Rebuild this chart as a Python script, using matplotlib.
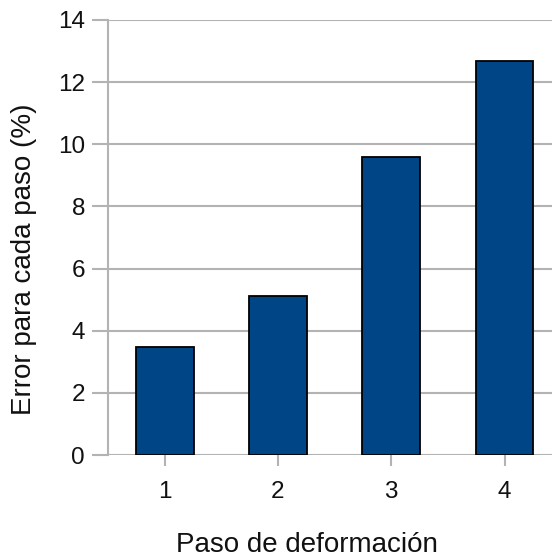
import matplotlib
matplotlib.use("Agg")
import matplotlib.pyplot as plt

# Error per deformation step
pasos = ["1", "2", "3", "4"]
errores = [3.48, 5.11, 9.59, 12.68]
yticks = [0, 2, 4, 6, 8, 10, 12, 14]

plt.rcParams["font.family"] = ["Liberation Sans", "DejaVu Sans"]

fig = plt.figure(figsize=(5.52, 5.58), dpi=100)
ax = fig.add_axes([108 / 552, 1 - 455 / 558, 1 - 108 / 552, (455 - 20) / 558])

x = list(range(1, len(pasos) + 1))
ax.bar(x, errores, width=0.51, color="#004586", edgecolor="#000000",
       linewidth=1.3, zorder=3)

ax.set_xlim(0.5, 0.5 + (552 - 108) / 113.3)
ax.set_ylim(0, 14)
ax.set_xticks(x)
ax.set_xticklabels(pasos)
ax.set_yticks(yticks)
ax.set_yticklabels([str(v) for v in yticks])

grid_c = "#b3b3b3"
ax.yaxis.grid(True, color=grid_c, linewidth=1.5, zorder=0)
for side in ("top", "right", "bottom"):
    ax.spines[side].set_visible(False)
ax.spines["left"].set_color(grid_c)
ax.spines["left"].set_linewidth(1.5)
ax.spines["left"].set_zorder(1)

ax.tick_params(axis="y", length=11.5, width=1.5, color=grid_c, pad=5,
               labelsize=17.5, labelcolor="#111111")
ax.tick_params(axis="x", length=8, width=1.5, color=grid_c, pad=11,
               labelsize=17.5, labelcolor="#111111")

ax.set_xlabel("Paso de deformación", fontsize=20, color="#111111")
ax.xaxis.label.set_va("baseline")
ax.xaxis.set_label_coords((307 - 108) / 444, -(552 - 455) / 435)
ax.set_ylabel("Error para cada paso (%)", fontsize=20, color="#111111")
ax.yaxis.label.set_va("center")
ax.yaxis.set_label_coords(-(108 - 24) / 444, (455 - 259) / 435)

fig.savefig("out.png", dpi=100)
